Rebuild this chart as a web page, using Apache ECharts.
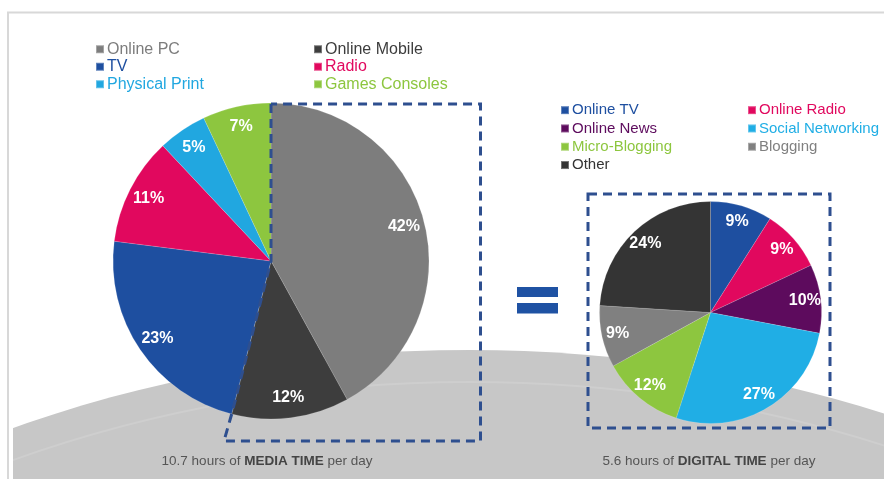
<!DOCTYPE html>
<html>
<head>
<meta charset="utf-8">
<script src="https://cdn.jsdelivr.net/npm/echarts@6/dist/echarts.min.js"></script>
<style>
  html, body { margin: 0; padding: 0; background: #ffffff; }
  #chart { width: 884px; height: 479px; }
</style>
</head>
<body>
<div id="chart"></div>
<script>
// ---- Data ----
const mediaCategories = ['Online PC', 'Online Mobile', 'TV', 'Radio', 'Physical Print', 'Games Consoles'];
const mediaValues = [42, 12, 23, 11, 5, 7];
const mediaColors = ['#7d7d7d', '#3d3d3d', '#1e4fa0', '#e1085e', '#21a7e0', '#8dc63f'];

const digitalCategories = ['Online TV', 'Online Radio', 'Online News', 'Social Networking', 'Micro-Blogging', 'Blogging', 'Other'];
const digitalValues = [9, 9, 10, 27, 12, 9, 24];
const digitalColors = ['#1e4fa0', '#e1085e', '#5d0b5d', '#20aee5', '#8dc63f', '#808080', '#343434'];

const mediaLegendCol1 = ['Online PC', 'TV', 'Physical Print'];
const mediaLegendCol2 = ['Online Mobile', 'Radio', 'Games Consoles'];
const digitalLegendCol1 = ['Online TV', 'Online News', 'Micro-Blogging', 'Other'];
const digitalLegendCol2 = ['Online Radio', 'Social Networking', 'Blogging'];

const mediaCaption = ['10.7 hours of ', 'MEDIA TIME', ' per day'];
const digitalCaption = ['5.6 hours of ', 'DIGITAL TIME', ' per day'];

// ---- Layout ----
const leftPie = { cx: 271, cy: 261, r: 158 };
const rightPie = { cx: 710.5, cy: 312.5, r: 111 };
const dashColor = '#2e4f8f';

const chart = echarts.init(document.getElementById('chart'), null, { renderer: 'canvas' });

function colorOf(cats, cols, name) { return cols[cats.indexOf(name)]; }

function legendCol(names, cats, cols, left, top, fontSize, lh) {
  return {
    orient: 'vertical', left: left, top: top, padding: 0, itemGap: 0,
    itemWidth: 8, itemHeight: 8, icon: 'rect', selectedMode: false,
    textStyle: { fontFamily: 'Liberation Sans, Arial, sans-serif', fontSize: fontSize, lineHeight: lh, padding: [0, 0, 0, -2] },
    data: names.map(n => ({ name: n, textStyle: { color: colorOf(cats, cols, n) } }))
  };
}

function realPie(cats, vals, cols, p) {
  return {
    type: 'pie', center: [p.cx, p.cy], radius: [0, p.r], startAngle: 90, clockwise: true,
    silent: true, z: 2, label: { show: false }, labelLine: { show: false },
    itemStyle: { borderColor: 'rgba(255,255,255,0.3)', borderWidth: 0.5 },
    emphasis: { disabled: true },
    data: cats.map((c, i) => ({ name: c, value: vals[i], itemStyle: { color: cols[i] } }))
  };
}

function labelRing(cats, vals, p, inner) {
  return {
    type: 'pie', center: [p.cx, p.cy], radius: [p.r * inner, p.r], startAngle: 90, clockwise: true,
    silent: true, z: 3, emphasis: { disabled: true },
    itemStyle: { color: 'rgba(0,0,0,0)', borderWidth: 0 },
    label: {
      show: true, position: 'inside', color: '#ffffff', fontWeight: 'bold', fontSize: 16,
      fontFamily: 'Liberation Sans, Arial, sans-serif',
      formatter: (d) => d.value + '%'
    },
    labelLine: { show: false },
    data: cats.map((c, i) => ({ name: 'lbl-' + c, value: vals[i] }))
  };
}

// dashed outline of the left "digital" part (first two slices)
const shareDigital = (mediaValues[0] + mediaValues[1]) / mediaValues.reduce((a, b) => a + b, 0);
const ang = shareDigital * Math.PI * 2;
const edgePt = [leftPie.cx + Math.sin(ang) * leftPie.r, leftPie.cy - Math.cos(ang) * leftPie.r];
const leftRect = { top: 104, bottom: 441, right: 480.5, left: 224 };
const leftPath = [
  [leftPie.cx, leftRect.top], [leftPie.cx, leftPie.cy], edgePt,
  [leftRect.left, leftRect.bottom], [leftRect.right, leftRect.bottom],
  [leftRect.right, leftRect.top], [leftPie.cx, leftRect.top]
];

const capFont = 'Liberation Sans, Arial, sans-serif';
function caption(parts, x, y) {
  return {
    type: 'text', z: 10, x: x, y: y,
    style: {
      text: parts[0] + '{b|' + parts[1] + '}' + parts[2],
      font: '13.5px ' + capFont, fill: '#555555', align: 'center', verticalAlign: 'middle',
      rich: { b: { fontWeight: 'bold', fontSize: 13.5, fontFamily: capFont, fill: '#444444', color: '#444444' } }
    }
  };
}

const option = {
  backgroundColor: '#ffffff',
  animation: false,
  tooltip: { show: false },
  legend: [
    legendCol(mediaLegendCol1, mediaCategories, mediaColors, 95, 40.5, 16, 17.5),
    legendCol(mediaLegendCol2, mediaCategories, mediaColors, 313, 40.5, 16, 17.5),
    legendCol(digitalLegendCol1, digitalCategories, digitalColors, 560, 101, 15, 18.3),
    legendCol(digitalLegendCol2, digitalCategories, digitalColors, 747, 101, 15, 18.3)
  ],
  graphic: [
    { type: 'ellipse', z: 0, silent: true, shape: { cx: 470, cy: 1350, rx: 1178, ry: 1000 }, style: { fill: '#c7c7c7' } },
    { type: 'ellipse', z: 0, silent: true, shape: { cx: 470, cy: 1382, rx: 1178, ry: 1000 }, style: { fill: null, stroke: 'rgba(255,255,255,0.13)', lineWidth: 2 } },
    { type: 'rect', z: 1, silent: true, shape: { x: 0, y: 0, width: 13, height: 479 }, style: { fill: '#ffffff' } },
    { type: 'polyline', z: 1, silent: true, shape: { points: [[8, 479], [8, 12.5], [884, 12.5]] }, style: { fill: null, stroke: '#d8d8d8', lineWidth: 2 } },
    { type: 'polyline', z: 10, silent: true, shape: { points: leftPath }, style: { fill: null, stroke: dashColor, lineWidth: 3, lineDash: [9, 6] } },
    { type: 'rect', z: 10, silent: true, shape: { x: 588, y: 194, width: 242, height: 234 }, style: { fill: null, stroke: dashColor, lineWidth: 3, lineDash: [9, 6] } },
    { type: 'rect', z: 10, silent: true, shape: { x: 517, y: 287, width: 41, height: 10 }, style: { fill: '#1f52a3' } },
    { type: 'rect', z: 10, silent: true, shape: { x: 517, y: 303, width: 41, height: 10.5 }, style: { fill: '#1f52a3' } },
    caption(mediaCaption, 267, 461),
    caption(digitalCaption, 709, 461)
  ],
  series: [
    realPie(mediaCategories, mediaValues, mediaColors, leftPie),
    realPie(digitalCategories, digitalValues, digitalColors, rightPie),
    labelRing(mediaCategories, mediaValues, leftPie, 0.7),
    labelRing(digitalCategories, digitalValues, rightPie, 0.66)
  ]
};
chart.setOption(option);
</script>
</body>
</html>
